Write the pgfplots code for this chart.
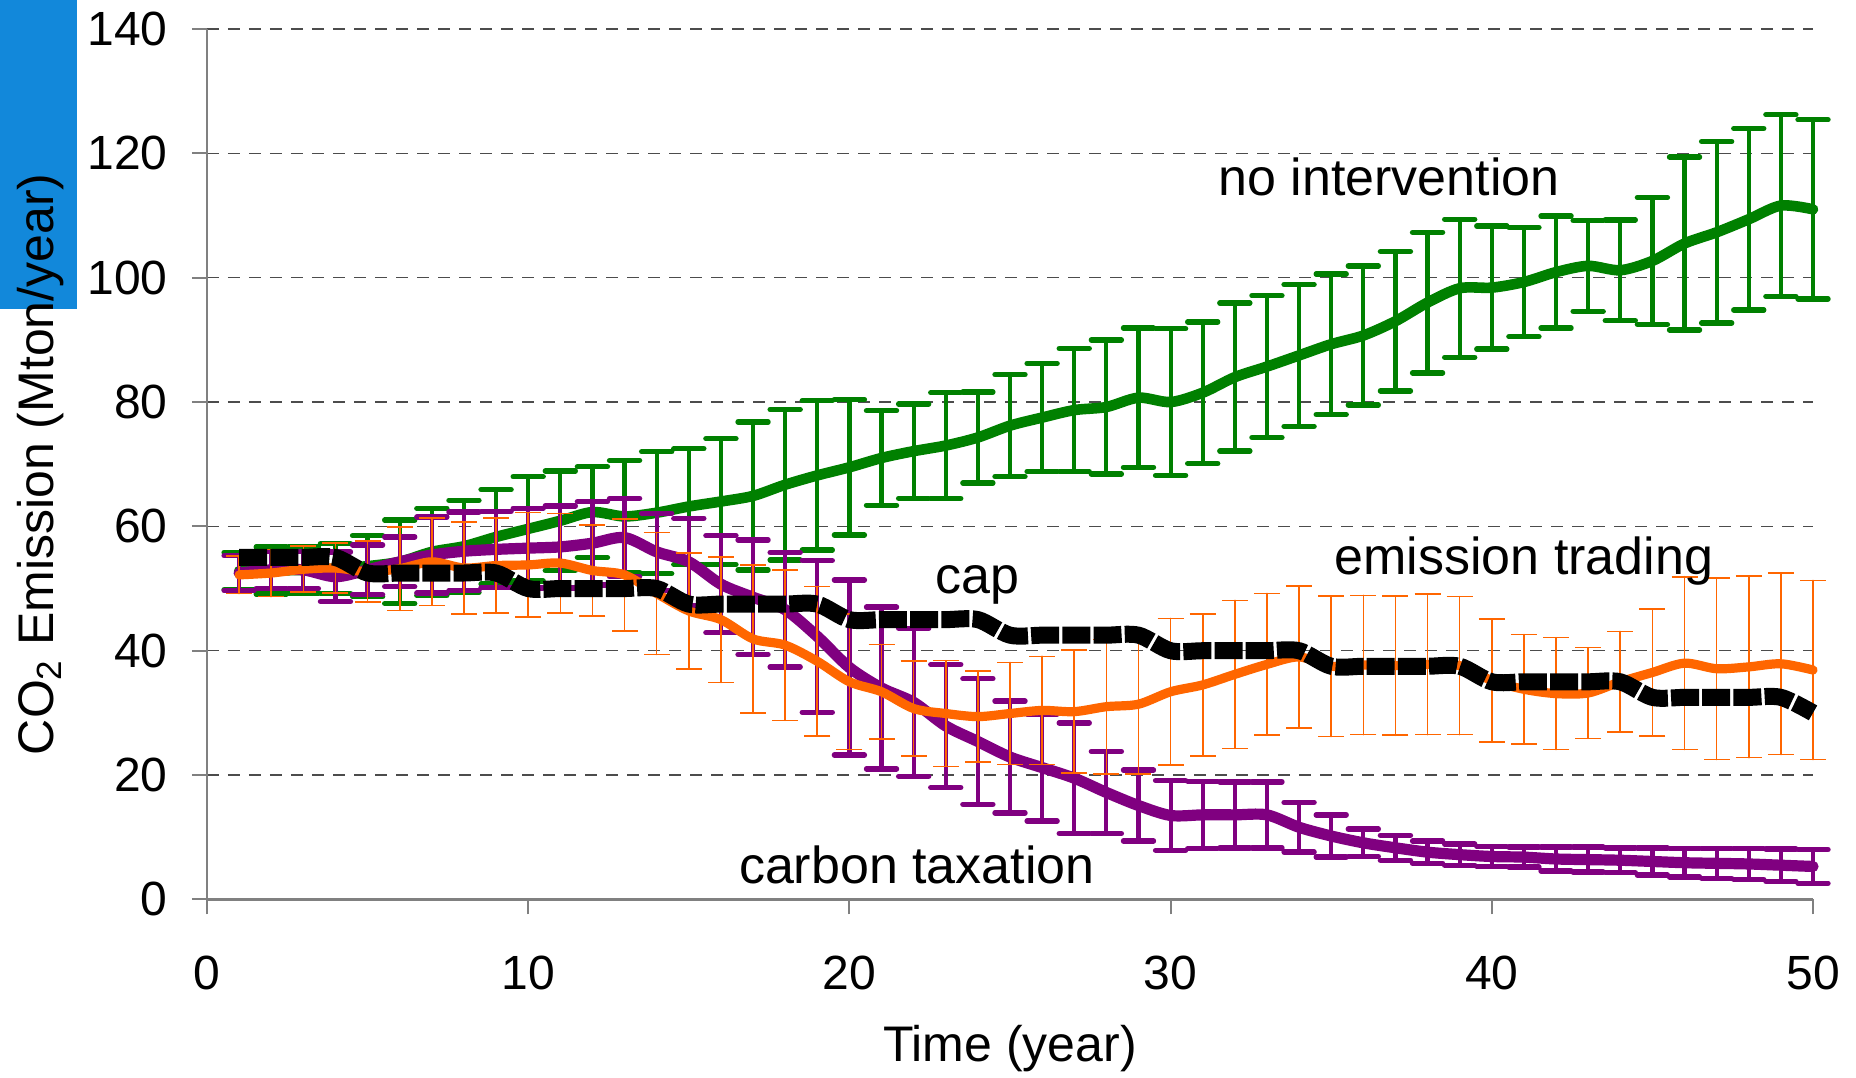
\documentclass[border=0pt]{standalone}
\usepackage{fontspec}
\setmainfont{Liberation Sans}
\usepackage{pgfplots}
\usepackage{pgfplotstable}
\pgfplotsset{compat=1.18}

\definecolor{ngreen}{RGB}{0,128,0}
\definecolor{tpurple}{RGB}{128,0,128}
\definecolor{etorange}{RGB}{255,102,0}
\definecolor{tabblue}{RGB}{18,136,218}
\definecolor{axgray}{RGB}{128,128,128}

% t: year; g/ge: no intervention mean and spread; p/pe: carbon taxation;
% o: emission trading (spread as ge); c: cap
\pgfplotstableread{
t  g     ge   p    pe   o    c
1  52.8  3.0  52.5 2.8  52.2 55.0
2  52.9  3.8  53.0 3.0  52.5 55.0
3  53.0  3.7  53.0 3.0  53.1 55.0
4  53.2  4.0  51.9 4.0  53.3 55.0
5  53.6  4.9  53.0 4.0  52.7 52.5
6  54.3  6.7  54.3 4.0  53.2 52.5
7  55.9  7.0  55.4 6.1  54.3 52.5
8  56.8  7.4  56.0 6.3  53.3 52.5
9  58.3  7.6  56.3 6.1  53.7 52.5
10 59.6  8.4  56.5 6.4  53.8 50.0
11 60.9  8.0  56.7 6.6  54.1 50.0
12 62.3  7.3  57.3 6.7  52.9 50.0
13 61.6  9.0  58.2 6.3  52.2 50.0
14 62.2  9.8  55.9 6.2  49.2 50.0
15 63.2  9.3  54.3 7.0  46.4 47.5
16 64.0  10.1 50.7 7.8  45.0 47.5
17 64.9  11.9 48.6 9.2  41.9 47.5
18 66.7  12.1 46.6 9.2  40.9 47.5
19 68.2  12.0 42.3 12.2 38.3 47.5
20 69.5  10.9 37.3 14.1 35.0 45.0
21 71.0  7.6  34.0 13.0 33.4 45.0
22 72.1  7.6  31.7 11.9 30.7 45.0
23 73.0  8.5  27.9 9.9  29.9 45.0
24 74.3  7.3  25.4 10.1 29.4 45.0
25 76.2  8.2  22.9 9.0  29.9 42.5
26 77.5  8.7  21.2 8.6  30.4 42.5
27 78.7  9.9  19.5 8.9  30.2 42.5
28 79.2  10.8 17.2 6.6  31.0 42.5
29 80.7  11.2 15.1 5.7  31.4 42.5
30 80.0  11.8 13.5 5.6  33.4 40.0
31 81.5  11.4 13.6 5.4  34.5 40.0
32 84.0  11.9 13.6 5.3  36.2 40.0
33 85.7  11.4 13.6 5.3  37.8 40.0
34 87.5  11.4 11.6 4.0  39.0 40.0
35 89.3  11.3 10.2 3.4  37.5 37.5
36 90.7  11.2 9.1  2.2  37.7 37.5
37 93.0  11.2 8.3  2.0  37.6 37.5
38 96.0  11.3 7.6  1.8  37.8 37.5
39 98.3  11.1 7.2  1.7  37.6 37.5
40 98.4  9.9  6.9  1.6  35.2 35.0
41 99.3  8.8  6.8  1.6  33.8 35.0
42 100.9 9.0  6.5  1.9  33.1 35.0
43 101.9 7.3  6.4  2.0  33.2 35.0
44 101.2 8.1  6.3  2.0  35.0 35.0
45 102.7 10.2 6.1  2.2  36.5 32.5
46 105.5 13.9 5.9  2.3  38.0 32.5
47 107.3 14.6 5.8  2.4  37.1 32.5
48 109.4 14.6 5.7  2.5  37.4 32.5
49 111.6 14.6 5.5  2.6  37.9 32.5
50 111.0 14.4 5.3  2.7  36.9 30.0
}\emissions

\begin{document}
\begin{tikzpicture}[x=1pt,y=1pt]
% page frame and the blue tab at the top left
\path[use as bounding box] (-103.5,-88.8) rectangle (824.5,449.7);
\fill[tabblue] (-103.5,295.2) rectangle (-65,449.7);
\begin{axis}[
  at={(0,0)}, anchor=south west,
  width=803pt, height=435.2pt, scale only axis,
  xmin=0, xmax=50, ymin=0, ymax=140,
  xtick={0,10,...,50}, ytick={0,20,...,140},
  axis lines*=left,
  axis line style={axgray, line width=1.1pt},
  tick align=outside, major tick length=7.5pt,
  major tick style={axgray, line width=1pt},
  ymajorgrids,
  grid style={black!70, line width=0.6pt, dash pattern=on 6pt off 4.5pt},
  /pgf/number format/assume math mode=true,
  tick label style={font=\fontsize{24}{28}\selectfont},
  xticklabel style={anchor=center, inner sep=0pt, yshift=-29.5pt},
  yticklabel style={anchor=east, inner sep=0pt, xshift=-12pt},
  xlabel={Time (year)},
  ylabel={CO\textsubscript{2} Emission (Mton/year)},
  label style={font=\fontsize{25}{30}\selectfont},
  xlabel style={at={(axis description cs:0.5,0)}, anchor=center, yshift=-74.8pt},
  ylabel style={at={(axis description cs:-0.1034,0.5)}, anchor=center},
  clip=false,
]
% no intervention
\addplot[ngreen, line width=5.3pt, smooth, line cap=round,
  error bars/.cd, y dir=both, y explicit,
  error bar style={line width=2.1pt, ngreen, solid},
  error mark options={ngreen, rotate=90, mark size=7.5pt, line width=2.7pt, line cap=round}]
  table[x=t, y=g, y error=ge] {\emissions};
% carbon taxation
\addplot[tpurple, line width=5.6pt, smooth, line cap=round,
  error bars/.cd, y dir=both, y explicit,
  error bar style={line width=2.1pt, tpurple, solid},
  error mark options={tpurple, rotate=90, mark size=7.5pt, line width=2.7pt, line cap=round}]
  table[x=t, y=p, y error=pe] {\emissions};
% emission trading
\addplot[etorange, line width=4.6pt, smooth, line cap=round,
  error bars/.cd, y dir=both, y explicit,
  error bar style={line width=0.8pt, etorange, solid},
  error mark options={etorange, rotate=90, mark size=6.5pt, line width=0.8pt}]
  table[x=t, y=o, y error=ge] {\emissions};
% cap
\addplot[black, line width=8.5pt, smooth, dash pattern=on 14pt off 1.6pt]
  table[x=t, y=c] {\emissions};

\node[anchor=base, font=\fontsize{26}{30}\selectfont] at (axis cs:36.8,113.2) {no intervention};
\node[anchor=base, font=\fontsize{26}{30}\selectfont] at (axis cs:24.0,49.2) {cap};
\node[anchor=base, font=\fontsize{26}{30}\selectfont] at (axis cs:41.0,52.3) {emission trading};
\node[anchor=base, font=\fontsize{26}{30}\selectfont] at (axis cs:22.1,2.6) {carbon taxation};
\end{axis}
\end{tikzpicture}
\end{document}
